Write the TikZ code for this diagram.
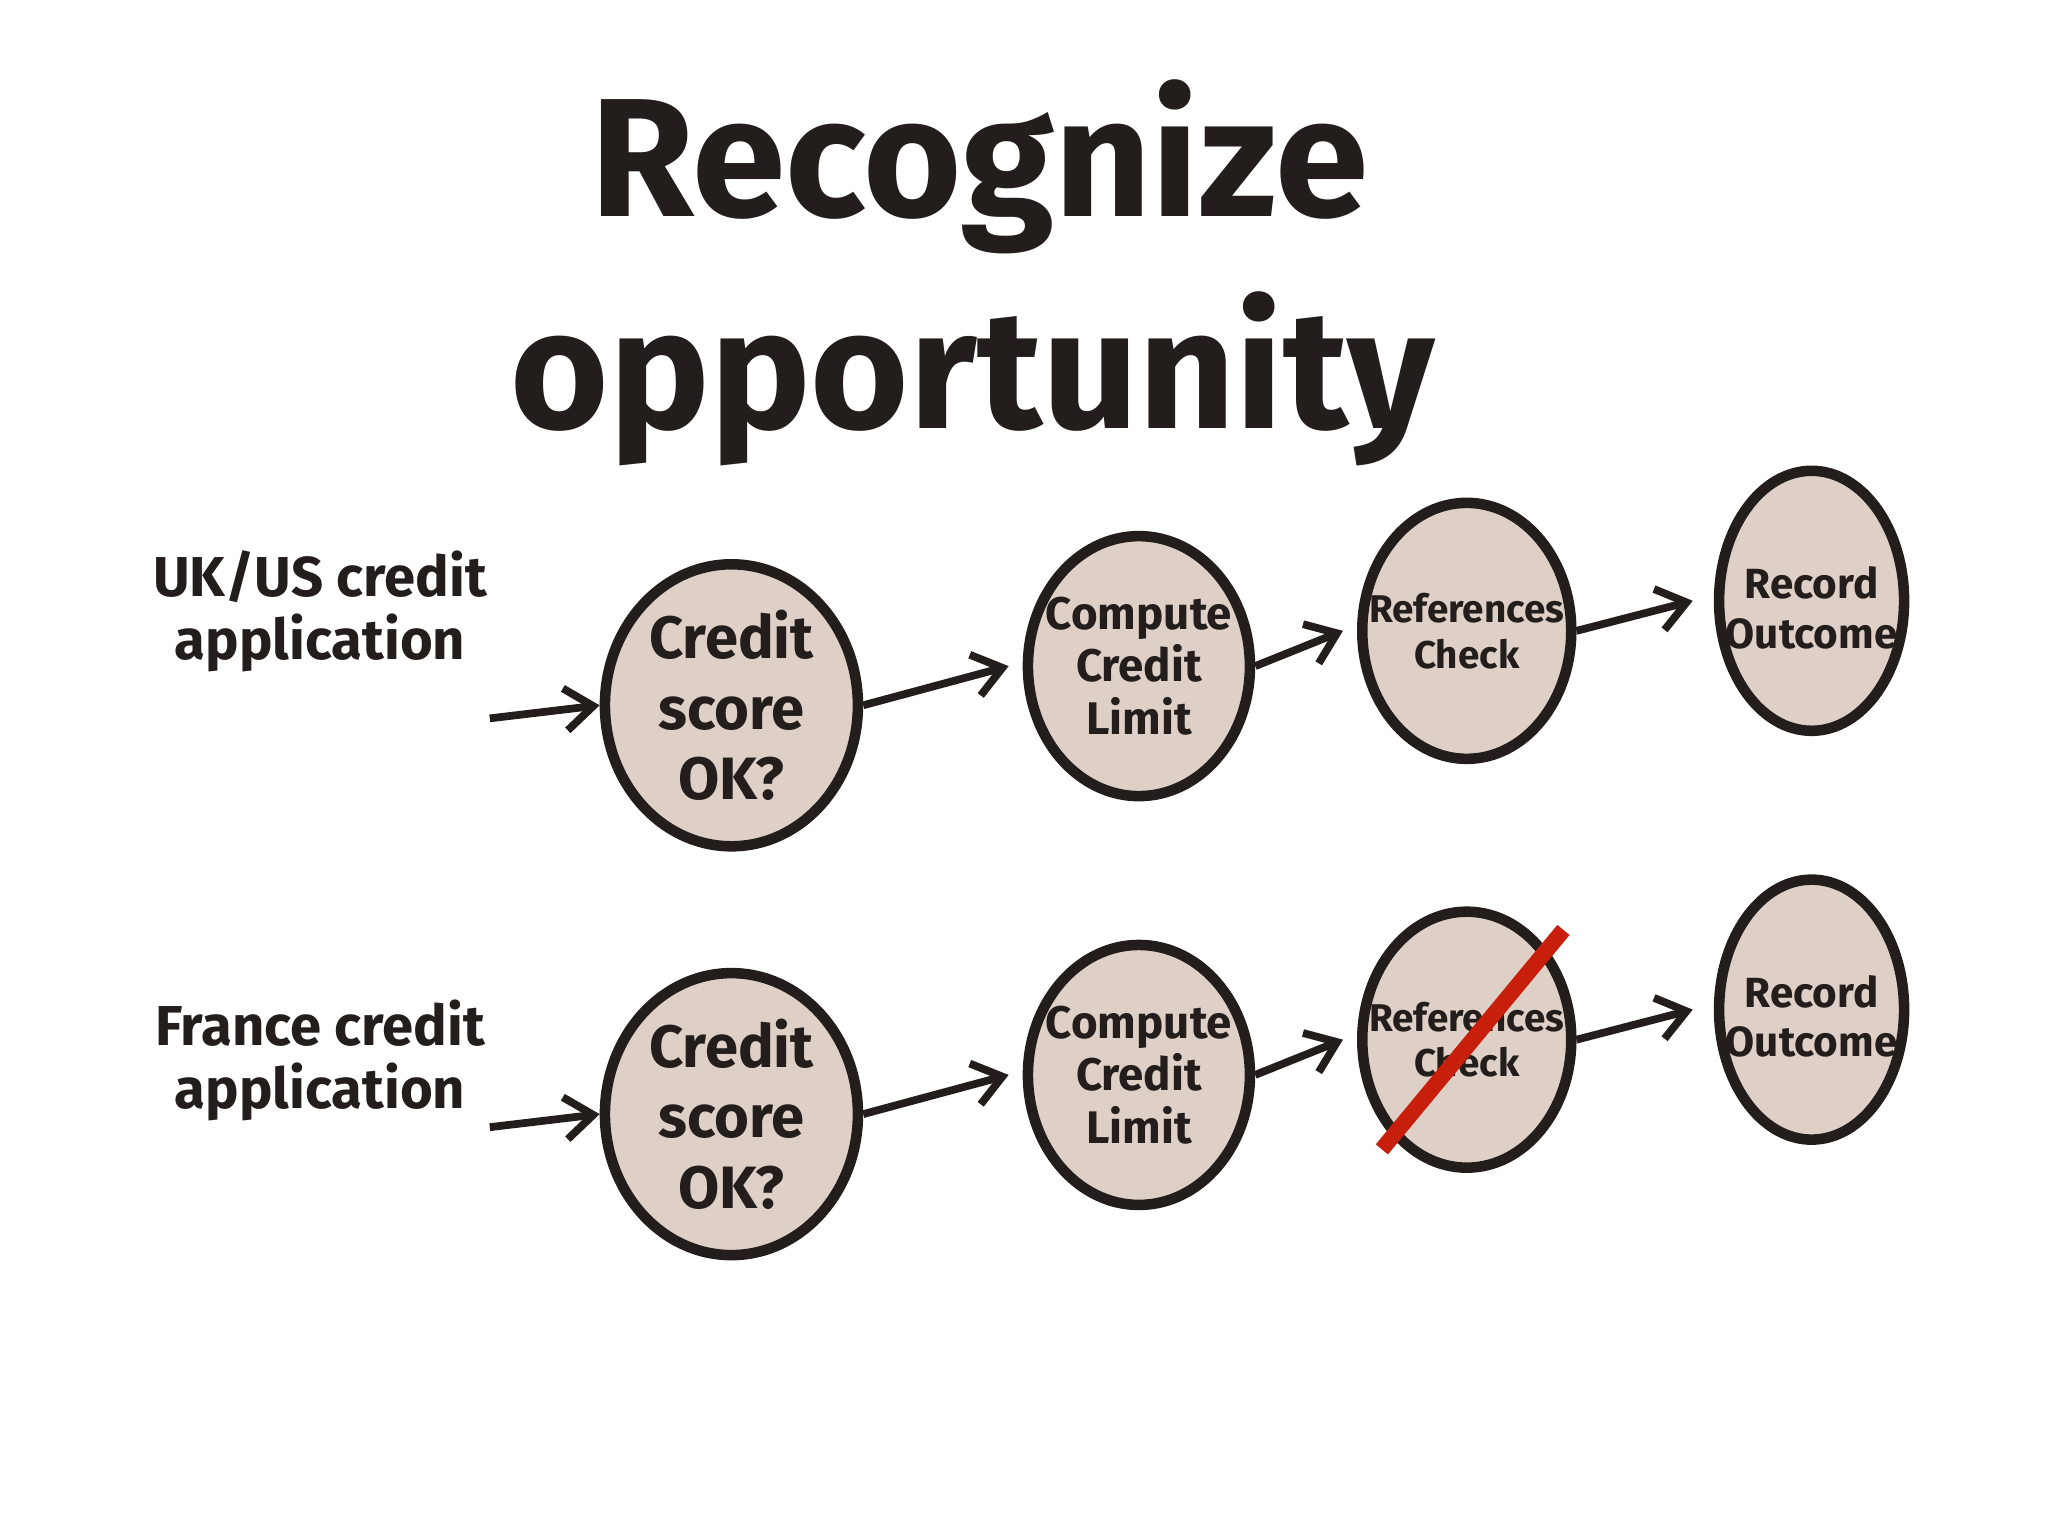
\documentclass[tikz,border=0pt]{standalone}
\usepackage{fontspec}
\setmainfont{Fira Sans}
\usetikzlibrary{shapes.geometric,arrows.meta}
\definecolor{blob}{RGB}{222,208,198}
\definecolor{ink}{RGB}{35,30,28}
\definecolor{strike}{RGB}{200,30,12}
\tikzset{
  blobnode/.style={ellipse,draw=ink,fill=blob,line width=3pt,inner sep=0pt},
  txt/.style={align=center,text=ink,inner sep=0pt},
  flow/.style={draw=ink,line width=2.2pt,-{Straight Barb[length=8pt,width=12pt]}},
  lbl/.style={align=center,font=\bfseries\fontsize{16}{18}\selectfont,text=ink}
}
\begin{document}
\begin{tikzpicture}[x=0.01306cm,y=-0.01306cm]
\useasboundingbox (0,0) rectangle (1568,1176);
\node[font=\bfseries\fontsize{48}{48}\selectfont,text=ink] (t1) at (750,128) {Recognize};
\node[font=\bfseries\fontsize{48}{48}\selectfont,text=ink] (t2) at (745,290) {opportunity};

\node[lbl] (l1) at (245,468) {UK/US credit\\application};
\node[lbl] (l2) at (245,812) {France credit\\application};
\coordinate (s1) at (375,550);
\coordinate (s2) at (375,863);

\foreach \r/\y in {a/540,b/853}{
  \node[blobnode,minimum width=2.53cm,minimum height=2.82cm] (c\r) at (560,\y) {};
  \node[txt,font=\bfseries\fontsize{17}{20}\selectfont] (ct\r) at (c\r) {Credit\\score\\OK?};
  \node[blobnode,minimum width=2.22cm,minimum height=2.6cm] (k\r) at (872,\y-30) {};
  \node[txt,font=\bfseries\fontsize{13}{15}\selectfont] (kt\r) at (k\r) {Compute\\Credit\\Limit};
  \node[blobnode,minimum width=2.09cm,minimum height=2.56cm] (r\r) at (1123,\y-57) {};
  \node[txt,font=\bfseries\fontsize{11}{13}\selectfont] (rt\r) at (r\r) {References\\Check};
  \node[blobnode,minimum width=1.85cm,minimum height=2.6cm] (o\r) at (1387,\y-80) {};
  \node[txt,font=\bfseries\fontsize{12}{14}\selectfont] (ot\r) at ([yshift=-2pt]o\r.center) {Record\\Outcome};
  \draw[flow] (c\r.east) -- ([xshift=-4pt]k\r.west);
  \draw[flow] (k\r.east) -- ([xshift=-4pt]r\r.west);
  \draw[flow] (r\r.east) -- ([xshift=-6pt]o\r.west);
}
\draw[flow] (s1) -- (ca.west);
\draw[flow] (s2) -- (cb.west);
\coordinate (x1) at (1058,880);
\coordinate (x2) at (1197,712);
\draw[strike,line width=4.5pt] (x1) -- (x2);
\end{tikzpicture}
\end{document}
